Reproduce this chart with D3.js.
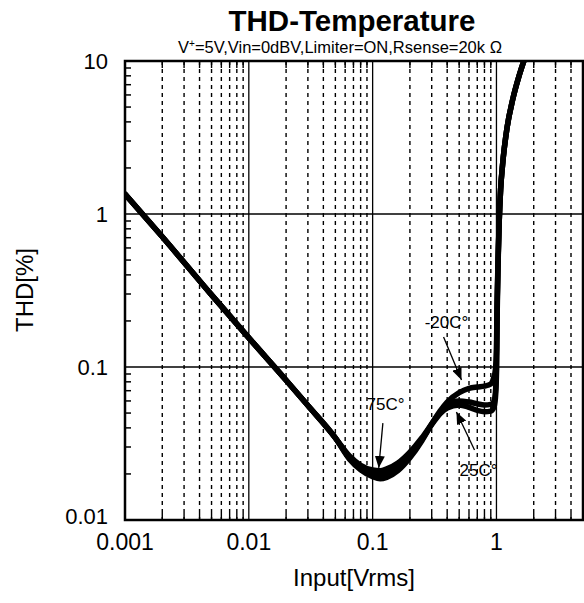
<!DOCTYPE html>
<html><head><meta charset="utf-8">
<script src="https://cdn.jsdelivr.net/npm/d3@7"></script>
<style>body{margin:0;background:#fff}svg{display:block}text{font-family:"Liberation Sans",Arial,sans-serif;fill:#000}</style>
</head><body><svg id="c" width="584" height="603"></svg>
<script>
// ---- data ----
const inputVrms = [0.001,0.002,0.005,0.01,0.02,0.03,0.05,0.065,0.08,0.1,0.115,0.13,0.16,0.2,0.25,0.3,0.35,0.4,0.5,0.6,0.7,0.8,0.9,0.95,0.98,1.0,1.01,1.03,1.05,1.08,1.12,1.22,1.35,1.53,1.7];
const thdM20 = [1.35,0.71,0.296,0.155,0.082,0.056,0.0344,0.0250,0.0213,0.0192,0.0186,0.0190,0.0210,0.0255,0.0330,0.0425,0.0515,0.0590,0.0680,0.0725,0.0740,0.0750,0.0775,0.085,0.096,0.13,0.24,0.5,0.85,1.44,2.09,3.7,5.56,8.1,10.5];
const thd25  = [1.35,0.71,0.296,0.155,0.082,0.056,0.0344,0.0254,0.0220,0.0203,0.0199,0.0203,0.0222,0.0265,0.0335,0.0420,0.0495,0.0540,0.0565,0.0545,0.0520,0.0510,0.0515,0.054,0.062,0.09,0.19,0.46,0.85,1.44,2.09,3.7,5.56,8.1,10.5];
const thd75  = [1.35,0.71,0.296,0.155,0.082,0.056,0.0344,0.0262,0.0228,0.0212,0.0210,0.0216,0.0236,0.0278,0.0345,0.0425,0.0505,0.0565,0.0600,0.0590,0.0575,0.0565,0.0570,0.059,0.068,0.10,0.21,0.48,0.85,1.44,2.09,3.7,5.56,8.1,10.5];
const xTickValues = [0.001,0.01,0.1,1];
const xTickLabels = ["0.001","0.01","0.1","1"];
const yTickValues = [0.01,0.1,1,10];
const yTickLabels = ["0.01","0.1","1","10"];
const annLabels = ["-20C°","75C°","25C°"];
const annText = [[0.395,0.18],[0.127,0.0524],[0.716,0.0194]];
const annTail = [[0.374,0.157],[0.121,0.043],[0.665,0.0287]];
const annTip  = [[0.522,0.0822],[0.112,0.0219],[0.475,0.0508]];

// ---- chart ----
const svg = d3.select("#c");
const x = d3.scaleLog().domain([0.001,5]).range([125,583]);
const y = d3.scaleLog().domain([0.01,10]).range([520,61]);
const [x0,x1] = x.range(), [y0,y1] = y.range();

svg.append("defs").append("clipPath").attr("id","clip")
  .append("rect").attr("x",x0).attr("y",y1).attr("width",x1-x0).attr("height",y0-y1);
const mk = svg.select("defs").append("marker").attr("id","arr")
  .attr("viewBox","0 0 12 10").attr("refX",12).attr("refY",5)
  .attr("markerWidth",12).attr("markerHeight",10).attr("markerUnits","userSpaceOnUse")
  .attr("orient","auto");
mk.append("path").attr("d","M0,0L12,5L0,10Z").attr("fill","#000");

// minor vertical dashed grid
const minorX = [];
for (let d=-3; d<=0; d++) for (let k=2;k<=9;k++){ const v=k*Math.pow(10,d); if (v<5) minorX.push(v); }
svg.append("g").selectAll("line").data(minorX).join("line")
  .attr("x1",d=>x(d)).attr("x2",d=>x(d)).attr("y1",y1).attr("y2",y0)
  .attr("stroke","#000").attr("stroke-width",1.4).attr("stroke-dasharray","4,4");
svg.append("g").selectAll("line").data(minorX).join("line")
  .attr("x1",d=>x(d)).attr("x2",d=>x(d)).attr("y1",y0).attr("y2",y0-7)
  .attr("stroke","#000").attr("stroke-width",1.4);
svg.append("g").selectAll("line").data(minorX).join("line")
  .attr("x1",d=>x(d)).attr("x2",d=>x(d)).attr("y1",y1).attr("y2",y1+7)
  .attr("stroke","#000").attr("stroke-width",1.4);
// major grid
svg.append("g").selectAll("line").data(xTickValues.slice(1)).join("line")
  .attr("x1",d=>x(d)).attr("x2",d=>x(d)).attr("y1",y1).attr("y2",y0)
  .attr("stroke","#000").attr("stroke-width",1.3);
svg.append("g").selectAll("line").data(yTickValues.slice(1,3)).join("line")
  .attr("y1",d=>y(d)).attr("y2",d=>y(d)).attr("x1",x0).attr("x2",x1)
  .attr("stroke","#000").attr("stroke-width",1.3);
// y minor ticks
const minorY = [];
for (let d=-2; d<=0; d++) for (let k=2;k<=9;k++) minorY.push(k*Math.pow(10,d));
svg.append("g").selectAll("line").data(minorY).join("line")
  .attr("y1",d=>y(d)).attr("y2",d=>y(d)).attr("x1",x0).attr("x2",x0+6)
  .attr("stroke","#000").attr("stroke-width",1.5);

// curves
const line = d3.line().x(d=>x(d[0])).y(d=>y(d[1])).curve(d3.curveMonotoneX);
const series = [thd75, thd25, thdM20];
svg.append("g").attr("clip-path","url(#clip)").selectAll("path").data(series).join("path")
  .attr("d",s=>line(inputVrms.map((v,i)=>[v,s[i]])))
  .attr("fill","none").attr("stroke","#000").attr("stroke-width",5.5)
  .attr("stroke-linejoin","round").attr("stroke-linecap","round");

// frame
svg.append("rect").attr("x",x0).attr("y",y1).attr("width",x1-x0).attr("height",y0-y1)
  .attr("fill","none").attr("stroke","#000").attr("stroke-width",2.5);

// tick labels
svg.append("g").selectAll("text").data(xTickValues).join("text")
  .attr("x",d=>x(d)).attr("y",550).attr("text-anchor","middle").attr("font-size",23)
  .text((d,i)=>xTickLabels[i]);
svg.append("g").selectAll("text").data(yTickValues).join("text")
  .attr("x",108).attr("y",d=>y(d)+8-(d===0.01?4:0)).attr("text-anchor","end").attr("font-size",22)
  .text((d,i)=>yTickLabels[i]);

// axis titles
svg.append("text").attr("x",354).attr("y",586).attr("text-anchor","middle").attr("font-size",24).text("Input[Vrms]");
svg.append("text").attr("transform","translate(33,290) rotate(-90)").attr("text-anchor","middle").attr("font-size",24).text("THD[%]");

// title
svg.append("text").attr("x",352).attr("y",31).attr("text-anchor","middle").attr("font-size",29.5).attr("font-weight","bold").text("THD-Temperature");
const sub = svg.append("text").attr("x",340).attr("y",53).attr("text-anchor","middle").attr("font-size",16.5);
sub.append("tspan").text("V");
sub.append("tspan").attr("font-size",10).attr("dy",-6).text("+");
sub.append("tspan").attr("dy",6).text("=5V,Vin=0dBV,Limiter=ON,Rsense=20k  Ω");

// annotations
const ann = svg.append("g");
ann.selectAll("line").data(annTip).join("line")
  .attr("x1",(d,i)=>x(annTail[i][0])).attr("y1",(d,i)=>y(annTail[i][1]))
  .attr("x2",d=>x(d[0])).attr("y2",d=>y(d[1]))
  .attr("stroke","#000").attr("stroke-width",1.3).attr("marker-end","url(#arr)");
ann.selectAll("text").data(annText).join("text")
  .attr("x",d=>x(d[0])).attr("y",d=>y(d[1])).attr("text-anchor","middle").attr("font-size",17)
  .text((d,i)=>annLabels[i]);
</script></body></html>
